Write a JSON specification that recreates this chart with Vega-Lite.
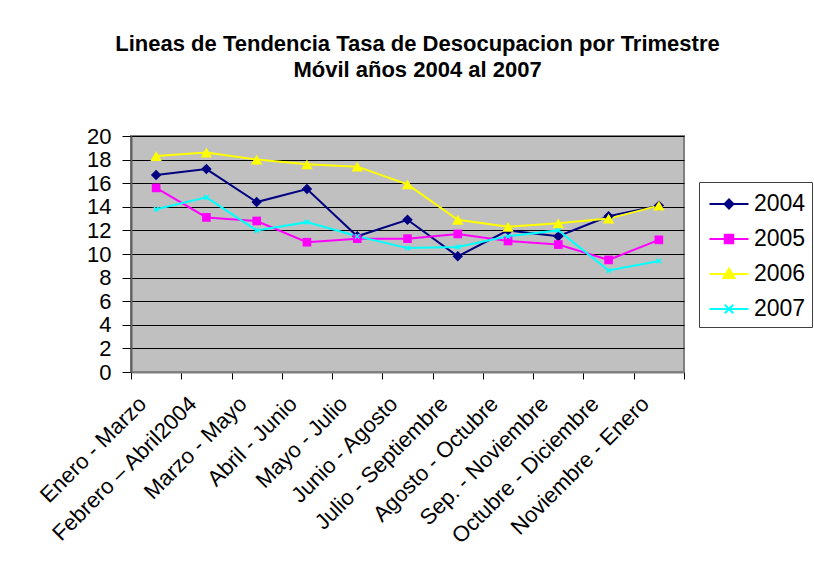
{
  "$schema": "https://vega.github.io/schema/vega-lite/v6.json",
  "width": 553,
  "height": 236,
  "autosize": {"type": "none"},
  "padding": {"left": 131, "top": 136, "right": 130, "bottom": 198},
  "background": "white",
  "title": {
    "text": ["Lineas de Tendencia Tasa de Desocupacion por Trimestre", "Móvil años 2004 al 2007"],
    "font": "Liberation Sans",
    "fontWeight": "bold",
    "fontSize": 22,
    "lineHeight": 26,
    "color": "black",
    "anchor": "middle",
    "dx": 10,
    "offset": 43
  },
  "data": {
    "values": [
      {"periodo": "Enero - Marzo", "anio": "2004", "tasa": 16.7},
      {"periodo": "Febrero – Abril2004", "anio": "2004", "tasa": 17.2},
      {"periodo": "Marzo - Mayo", "anio": "2004", "tasa": 14.4},
      {"periodo": "Abril - Junio", "anio": "2004", "tasa": 15.5},
      {"periodo": "Mayo - Julio", "anio": "2004", "tasa": 11.5},
      {"periodo": "Junio  - Agosto", "anio": "2004", "tasa": 12.9},
      {"periodo": "Julio - Septiembre", "anio": "2004", "tasa": 9.8},
      {"periodo": "Agosto - Octubre", "anio": "2004", "tasa": 12.0},
      {"periodo": "Sep. - Noviembre", "anio": "2004", "tasa": 11.5},
      {"periodo": "Octubre - Diciembre", "anio": "2004", "tasa": 13.2},
      {"periodo": "Noviembre - Enero", "anio": "2004", "tasa": 14.1},
      {"periodo": "Enero - Marzo", "anio": "2005", "tasa": 15.6},
      {"periodo": "Febrero – Abril2004", "anio": "2005", "tasa": 13.1},
      {"periodo": "Marzo - Mayo", "anio": "2005", "tasa": 12.8},
      {"periodo": "Abril - Junio", "anio": "2005", "tasa": 11.0},
      {"periodo": "Mayo - Julio", "anio": "2005", "tasa": 11.3},
      {"periodo": "Junio  - Agosto", "anio": "2005", "tasa": 11.3},
      {"periodo": "Julio - Septiembre", "anio": "2005", "tasa": 11.7},
      {"periodo": "Agosto - Octubre", "anio": "2005", "tasa": 11.1},
      {"periodo": "Sep. - Noviembre", "anio": "2005", "tasa": 10.8},
      {"periodo": "Octubre - Diciembre", "anio": "2005", "tasa": 9.5},
      {"periodo": "Noviembre - Enero", "anio": "2005", "tasa": 11.2},
      {"periodo": "Enero - Marzo", "anio": "2006", "tasa": 18.3},
      {"periodo": "Febrero – Abril2004", "anio": "2006", "tasa": 18.6},
      {"periodo": "Marzo - Mayo", "anio": "2006", "tasa": 18.0},
      {"periodo": "Abril - Junio", "anio": "2006", "tasa": 17.6},
      {"periodo": "Mayo - Julio", "anio": "2006", "tasa": 17.4},
      {"periodo": "Junio  - Agosto", "anio": "2006", "tasa": 15.9},
      {"periodo": "Julio - Septiembre", "anio": "2006", "tasa": 12.9},
      {"periodo": "Agosto - Octubre", "anio": "2006", "tasa": 12.3},
      {"periodo": "Sep. - Noviembre", "anio": "2006", "tasa": 12.6},
      {"periodo": "Octubre - Diciembre", "anio": "2006", "tasa": 13.0},
      {"periodo": "Noviembre - Enero", "anio": "2006", "tasa": 14.1},
      {"periodo": "Enero - Marzo", "anio": "2007", "tasa": 13.8},
      {"periodo": "Febrero – Abril2004", "anio": "2007", "tasa": 14.8},
      {"periodo": "Marzo - Mayo", "anio": "2007", "tasa": 12.0},
      {"periodo": "Abril - Junio", "anio": "2007", "tasa": 12.7},
      {"periodo": "Mayo - Julio", "anio": "2007", "tasa": 11.5},
      {"periodo": "Junio  - Agosto", "anio": "2007", "tasa": 10.5},
      {"periodo": "Julio - Septiembre", "anio": "2007", "tasa": 10.6},
      {"periodo": "Agosto - Octubre", "anio": "2007", "tasa": 11.5},
      {"periodo": "Sep. - Noviembre", "anio": "2007", "tasa": 12.0},
      {"periodo": "Octubre - Diciembre", "anio": "2007", "tasa": 8.6},
      {"periodo": "Noviembre - Enero", "anio": "2007", "tasa": 9.4}
    ]
  },
  "encoding": {
    "x": {
      "field": "periodo",
      "type": "nominal",
      "sort": null,
      "scale": {"paddingInner": 0, "paddingOuter": 0},
      "axis": {
        "title": null,
        "labelAngle": -45,
        "labelAlign": "right",
        "labelBaseline": "middle",
        "labelPadding": 21,
        "labelOffset": -14,
        "labelFont": "Liberation Sans",
        "labelFontSize": 22,
        "labelColor": "black",
        "labelLimit": 400,
        "tickBand": "extent",
        "ticks": true,
        "tickSize": 7,
        "tickColor": "black",
        "domainColor": "#808080",
        "domainWidth": 2,
        "grid": false
      }
    },
    "y": {
      "field": "tasa",
      "type": "quantitative",
      "scale": {"domain": [0, 20], "nice": false},
      "axis": {
        "title": null,
        "values": [0, 2, 4, 6, 8, 10, 12, 14, 16, 18, 20],
        "labelFont": "Liberation Sans",
        "labelFontSize": 22,
        "labelColor": "black",
        "labelPadding": 11,
        "tickSize": 9,
        "tickColor": "black",
        "domainColor": "#606060",
        "domainWidth": 2,
        "grid": true,
        "gridColor": "black",
        "gridWidth": 1,
        "gridOpacity": 1
      }
    },
    "color": {
      "field": "anio",
      "type": "nominal",
      "scale": {
        "domain": ["2004", "2005", "2006", "2007"],
        "range": ["#000080", "#FF00FF", "#FFFF00", "#00FFFF"]
      },
      "legend": {
        "title": null,
        "orient": "none",
        "legendX": 568,
        "legendY": 46,
        "padding": 6,
        "strokeColor": "#404040",
        "fillColor": "white",
        "labelFont": "Liberation Sans",
        "labelFontSize": 23,
        "labelColor": "black",
        "labelOffset": 9,
        "symbolOffset": 8,
        "symbolSize": 900,
        "symbolStrokeWidth": 2,
        "rowPadding": 7,
        "encode": {
          "symbols": {
            "update": {
              "shape": {"signal": "datum.value === '2004' ? 'M-1.3,0H1.3M0,-0.3L0.3,0L0,0.3L-0.3,0Z' : datum.value === '2005' ? 'M-1.3,0H1.3M-0.28,-0.28H0.28V0.28H-0.28Z' : datum.value === '2006' ? 'M-1.3,0H1.3M0,-0.36L0.37,0.26H-0.37Z' : 'M-1.3,0H1.3M-0.28,-0.28L0.28,0.28M-0.28,0.28L0.28,-0.28'"},
              "size": {"value": 900},
              "fill": {"signal": "scale('color', datum.value)"},
              "stroke": {"signal": "scale('color', datum.value)"},
              "strokeWidth": {"value": 2},
              "opacity": {"value": 1}
            }
          }
        }
      }
    }
  },
  "layer": [
    {
      "mark": {"type": "line", "strokeWidth": 2},
      "encoding": {}
    },
    {
      "transform": [{"filter": "datum.anio === '2004'"}],
      "mark": {"type": "point", "shape": "diamond", "size": 110, "filled": true, "opacity": 1, "strokeWidth": 1}
    },
    {
      "transform": [{"filter": "datum.anio === '2005'"}],
      "mark": {"type": "point", "shape": "square", "size": 75, "filled": true, "opacity": 1, "strokeWidth": 1}
    },
    {
      "transform": [{"filter": "datum.anio === '2006'"}],
      "mark": {"type": "point", "shape": "triangle-up", "size": 130, "filled": true, "opacity": 1, "strokeWidth": 1}
    },
    {
      "transform": [{"filter": "datum.anio === '2007'"}],
      "mark": {"type": "point", "shape": "M-1,-1L1,1M-1,1L1,-1", "size": 20, "filled": false, "opacity": 1, "strokeWidth": 1.5}
    }
  ],
  "config": {
    "view": {"fill": "#C0C0C0", "stroke": "#808080", "strokeWidth": 2},
    "font": "Liberation Sans"
  }
}
